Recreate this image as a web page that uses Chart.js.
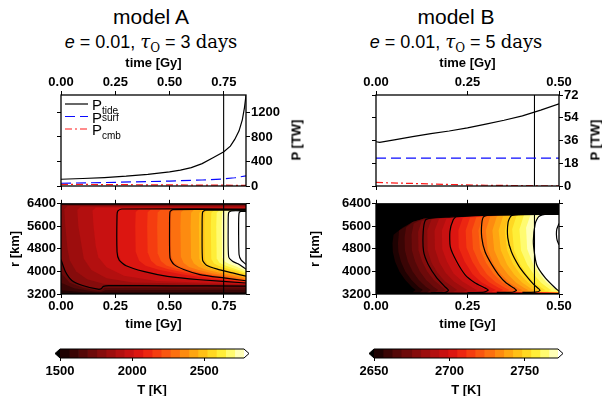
<!DOCTYPE html>
<html>
<head>
<meta charset="utf-8">
<script src="https://cdn.jsdelivr.net/npm/chart.js@4/dist/chart.umd.min.js"></script>
<style>
  body { margin: 0; width: 602px; height: 396px; position: relative; overflow: hidden; background: #fff; font-family: "Liberation Sans", Arial, sans-serif; }
  .box { position: absolute; }
  .title { position: absolute; font-size: 21px; line-height: 21px; white-space: nowrap; transform: translateX(-50%); }
  .eq { position: absolute; font-size: 18px; line-height: 22px; white-space: nowrap; transform: translateX(-50%); }
  .eq .m { font-family: "DejaVu Serif", serif; }
  .eq sub { font-family: "DejaVu Serif", serif; font-size: 12px; vertical-align: -4px; }
  .rot { position: absolute; font: bold 13px "Liberation Sans", Arial, sans-serif; white-space: nowrap; transform: translate(-50%, -50%) rotate(-90deg); }
</style>
</head>
<body>
<div class="title" style="left:151px;top:6px">model A</div>
<div class="eq" style="left:151px;top:31px"><i>e</i> = 0.01, <i class="m">τ</i><sub>O</sub> = 3 <span class="m">days</span></div>
<div class="title" style="left:456px;top:6px">model B</div>
<div class="eq" style="left:456px;top:31px"><i>e</i> = 0.01, <i class="m">τ</i><sub>O</sub> = 5 <span class="m">days</span></div>

<div class="box" style="left:0;top:50px"><canvas id="topA" width="300" height="145"></canvas></div>
<div class="box" style="left:0;top:195px"><canvas id="heatA" width="300" height="145"></canvas></div>
<div class="box" style="left:0;top:340px"><canvas id="barA" width="300" height="56"></canvas></div>
<div class="box" style="left:300px;top:50px"><canvas id="topB" width="302" height="145"></canvas></div>
<div class="box" style="left:300px;top:195px"><canvas id="heatB" width="302" height="145"></canvas></div>
<div class="box" style="left:300px;top:340px"><canvas id="barB" width="302" height="56"></canvas></div>
<div class="rot" style="left:296px;top:140px">P [TW]</div>
<div class="rot" style="left:595px;top:140px">P [TW]</div>

<script>
// ---- axes ----
const tickTimeA = [0, 0.25, 0.5, 0.75];
const tickTimeB = [0, 0.25, 0.5];
const tickPowerA = [0, 400, 800, 1200];
const tickPowerB = [0, 18, 36, 54, 72];
const tickRadius = [3200, 4000, 4800, 5600, 6400];
const tickTempA = [1500, 2000, 2500];
const tickTempB = [2650, 2700, 2750];
const timeMaxA = 0.852;
const timeMaxB = 0.5;
const powerMaxA = 1485;
const powerMaxB = 72;
const markA = 0.749;
const markB = 0.433;

// ---- power curves (TW) ----
const tideTimeA = [0, 0.1, 0.2, 0.3, 0.4, 0.5, 0.55, 0.6, 0.65, 0.7, 0.75, 0.78, 0.8, 0.82, 0.835, 0.845, 0.852];
const tideA = [110, 122, 138, 160, 190, 232, 260, 300, 365, 460, 560, 650, 760, 900, 1080, 1280, 1480];
const surfTimeA = [0, 0.25, 0.5, 0.65, 0.75, 0.8, 0.852];
const surfA = [45, 60, 80, 98, 115, 135, 165];
const cmbTimeA = [0, 0.25, 0.5, 0.65, 0.75, 0.8, 0.852];
const cmbA = [28, 22, 18, 15, 14, 12, 10];

const tideTimeB = [0, 0.01, 0.05, 0.1, 0.15, 0.2, 0.25, 0.3, 0.35, 0.4, 0.45, 0.5];
const tideB = [35, 34.5, 36.5, 39, 41.5, 43.5, 46, 49, 52, 55.5, 60, 65];
const surfTimeB = [0, 0.25, 0.5];
const surfB = [22, 22, 22];
const cmbTimeB = [0, 0.1, 0.2, 0.3, 0.4, 0.5];
const cmbB = [2.8, 2.0, 1.2, 0.6, 0.3, 0.1];

const legendNames = ['tide', 'surf', 'cmb'];

// ---- temperature levels (K) ----
const levelsA = [1500, 1564, 1628, 1691, 1755, 1819, 1883, 1946, 2010, 2074, 2138, 2201, 2265, 2329, 2393, 2456, 2520, 2584, 2648, 2711, 2775];
const levelsB = [2650, 2656, 2662, 2668, 2675, 2681, 2687, 2693, 2699, 2705, 2711, 2717, 2723, 2730, 2736, 2742, 2748, 2754, 2760, 2766, 2772];
const cmap = ['#1e0202', '#3a0505', '#540808', '#6d0a0a', '#860c0c', '#9d0d0d', '#b30f0f', '#c81111', '#dc1611', '#ec2611',
              '#f53d10', '#f95610', '#fc7010', '#fd8b10', '#fea612', '#ffc016', '#ffd822', '#ffee38', '#fffb70', '#ffffb8'];
const underColor = '#000000';
const overColor = '#ffffff';

// isotherm outlines [time Gy, radius km]; region right of each one is >= that level
const isoA = [
  [[0.852, 6395], [0, 6395], [0, 3215], [0.852, 3215]],
  [[0.852, 6385], [0, 6385], [0, 3330], [0.1, 3265], [0.2, 3250], [0.852, 3270]],
  [[0.852, 6370], [0, 6370], [0, 3600], [0.06, 3400], [0.15, 3285], [0.185, 3270], [0.205, 3330], [0.852, 3350]],
  [[0.852, 6355], [0, 6355], [0, 3950], [0.04, 3600], [0.1, 3420], [0.17, 3315], [0.19, 3330], [0.2, 3410], [0.852, 3420]],
  [[0.852, 6340], [0, 6340], [0, 4420], [0.02, 4000], [0.05, 3680], [0.1, 3500], [0.17, 3375], [0.19, 3400], [0.2, 3485], [0.852, 3475]],
  [[0.852, 6320], [0.03, 6320], [0.015, 6200], [0.02, 5600], [0.03, 4800], [0.04, 4400], [0.07, 4000], [0.12, 3720], [0.2, 3555], [0.4, 3525], [0.852, 3505]],
  [[0.852, 6295], [0.09, 6295], [0.075, 6180], [0.08, 5600], [0.095, 4900], [0.105, 4450], [0.14, 4050], [0.21, 3760], [0.33, 3610], [0.852, 3530]],
  [[0.852, 6265], [0.16, 6265], [0.145, 6160], [0.15, 5600], [0.16, 4900], [0.172, 4500], [0.21, 4150], [0.29, 3850], [0.44, 3660], [0.852, 3550]],
  [[0.852, 6230], [0.28, 6230], [0.262, 6120], [0.26, 5600], [0.262, 4700], [0.275, 4400], [0.3, 4200], [0.37, 4020], [0.49, 3840], [0.64, 3710], [0.852, 3580]],
  [[0.852, 6215], [0.36, 6215], [0.344, 6110], [0.342, 5600], [0.344, 4700], [0.36, 4380], [0.39, 4200], [0.45, 4060], [0.56, 3890], [0.7, 3745], [0.852, 3605]],
  [[0.852, 6205], [0.415, 6205], [0.399, 6100], [0.397, 5600], [0.399, 4680], [0.415, 4380], [0.44, 4210], [0.49, 4090], [0.59, 3930], [0.72, 3775], [0.852, 3630]],
  [[0.852, 6195], [0.46, 6195], [0.445, 6095], [0.443, 5600], [0.445, 4650], [0.46, 4370], [0.485, 4210], [0.53, 4100], [0.62, 3960], [0.74, 3800], [0.852, 3655]],
  [[0.852, 6190], [0.52, 6190], [0.507, 6090], [0.505, 5600], [0.507, 4560], [0.52, 4330], [0.545, 4180], [0.58, 4080], [0.66, 3920], [0.77, 3790], [0.852, 3685]],
  [[0.852, 6185], [0.565, 6185], [0.552, 6090], [0.55, 5600], [0.552, 4520], [0.565, 4300], [0.59, 4160], [0.63, 4060], [0.7, 3930], [0.79, 3820], [0.852, 3725]],
  [[0.852, 6180], [0.612, 6180], [0.599, 6085], [0.597, 5600], [0.599, 4480], [0.612, 4280], [0.635, 4160], [0.67, 4060], [0.73, 3950], [0.81, 3850], [0.852, 3765]],
  [[0.852, 6175], [0.65, 6175], [0.637, 6085], [0.635, 5600], [0.637, 4450], [0.65, 4270], [0.67, 4170], [0.7, 4080], [0.76, 3970], [0.852, 3805]],
  [[0.852, 6170], [0.675, 6170], [0.662, 6085], [0.66, 5600], [0.662, 4430], [0.675, 4260], [0.695, 4180], [0.73, 4090], [0.79, 3990], [0.852, 3855]],
  [[0.852, 6165], [0.705, 6165], [0.692, 6085], [0.69, 5600], [0.692, 4440], [0.705, 4280], [0.725, 4200], [0.76, 4110], [0.81, 4020], [0.852, 3905]],
  [[0.852, 6160], [0.73, 6160], [0.717, 6085], [0.715, 5600], [0.717, 4460], [0.73, 4310], [0.75, 4230], [0.78, 4150], [0.852, 3965]],
  [[0.852, 6155], [0.755, 6155], [0.742, 6085], [0.74, 5600], [0.742, 4490], [0.755, 4340], [0.775, 4260], [0.8, 4190], [0.852, 4025]],
  [[0.852, 6150], [0.78, 6150], [0.767, 6085], [0.765, 5600], [0.767, 4520], [0.78, 4370], [0.8, 4290], [0.825, 4220], [0.852, 4085]]
];

// model B: shared cold lid edge, then each isotherm's flank
const lidB = [[0.5, 6050], [0.45, 6040], [0.35, 6010], [0.25, 5960], [0.2, 5930], [0.166, 5900], [0.13, 5870], [0.1, 5750], [0.073, 5560], [0.05, 5320]];
const flankB = [
  [[0.048, 5300], [0.045, 5000], [0.046, 4700], [0.052, 4350], [0.064, 4000], [0.08, 3700], [0.098, 3450], [0.108, 3340], [0.1, 3262], [0.5, 3235]],
  [[0.063, 5450], [0.06, 5000], [0.061, 4700], [0.068, 4350], [0.08, 4000], [0.097, 3700], [0.116, 3450], [0.128, 3340], [0.12, 3262], [0.5, 3237]],
  [[0.082, 5560], [0.078, 5200], [0.079, 4750], [0.087, 4350], [0.1, 4000], [0.117, 3700], [0.137, 3450], [0.149, 3340], [0.14, 3264], [0.5, 3239]],
  [[0.103, 5700], [0.097, 5300], [0.098, 4750], [0.107, 4350], [0.12, 4000], [0.137, 3700], [0.158, 3450], [0.17, 3340], [0.16, 3266], [0.5, 3241]],
  [[0.125, 5800], [0.115, 5400], [0.116, 4750], [0.126, 4350], [0.14, 4000], [0.158, 3700], [0.18, 3450], [0.19, 3340], [0.18, 3268], [0.5, 3243]],
  [[0.152, 5850], [0.14, 5450], [0.141, 4750], [0.152, 4300], [0.168, 3950], [0.188, 3650], [0.212, 3430], [0.222, 3340], [0.21, 3270], [0.5, 3245]],
  [[0.172, 5860], [0.16, 5450], [0.161, 4800], [0.173, 4330], [0.19, 3950], [0.212, 3650], [0.238, 3430], [0.25, 3340], [0.238, 3272], [0.5, 3247]],
  [[0.192, 5870], [0.18, 5450], [0.181, 4800], [0.194, 4340], [0.212, 3930], [0.236, 3640], [0.264, 3420], [0.277, 3340], [0.264, 3274], [0.5, 3249]],
  [[0.212, 5880], [0.2, 5450], [0.201, 4850], [0.216, 4350], [0.238, 3900], [0.262, 3620], [0.29, 3410], [0.303, 3340], [0.29, 3276], [0.5, 3251]],
  [[0.237, 5900], [0.225, 5450], [0.226, 4850], [0.242, 4350], [0.264, 3900], [0.288, 3620], [0.316, 3410], [0.328, 3340], [0.315, 3278], [0.5, 3253]],
  [[0.257, 5910], [0.245, 5450], [0.247, 4850], [0.263, 4350], [0.285, 3900], [0.309, 3620], [0.336, 3410], [0.348, 3340], [0.335, 3280], [0.5, 3255]],
  [[0.274, 5920], [0.262, 5450], [0.265, 4800], [0.282, 4300], [0.303, 3900], [0.327, 3620], [0.353, 3410], [0.365, 3340], [0.352, 3282], [0.5, 3257]],
  [[0.292, 5930], [0.28, 5450], [0.284, 4800], [0.301, 4300], [0.322, 3900], [0.345, 3620], [0.37, 3410], [0.381, 3340], [0.369, 3284], [0.5, 3259]],
  [[0.312, 5940], [0.3, 5450], [0.305, 4750], [0.322, 4250], [0.343, 3880], [0.365, 3600], [0.389, 3400], [0.4, 3335], [0.388, 3286], [0.5, 3261]],
  [[0.33, 5950], [0.318, 5450], [0.323, 4750], [0.34, 4250], [0.361, 3880], [0.383, 3600], [0.406, 3400], [0.417, 3335], [0.405, 3288], [0.5, 3263]],
  [[0.347, 5960], [0.335, 5450], [0.341, 4750], [0.358, 4250], [0.378, 3880], [0.4, 3600], [0.422, 3400], [0.433, 3335], [0.421, 3290], [0.5, 3265]],
  [[0.364, 5970], [0.352, 5450], [0.358, 4750], [0.375, 4250], [0.395, 3880], [0.416, 3600], [0.437, 3400], [0.447, 3335], [0.436, 3292], [0.5, 3267]],
  [[0.384, 5980], [0.372, 5500], [0.377, 4750], [0.394, 4250], [0.413, 3880], [0.433, 3600], [0.454, 3400], [0.463, 3335], [0.452, 3294], [0.5, 3269]],
  [[0.404, 5990], [0.392, 5500], [0.396, 4750], [0.413, 4250], [0.432, 3880], [0.451, 3600], [0.471, 3400], [0.48, 3335], [0.47, 3296], [0.5, 3271]],
  [[0.422, 6000], [0.41, 5550], [0.413, 4800], [0.43, 4250], [0.448, 3880], [0.467, 3600], [0.486, 3400], [0.495, 3335], [0.5, 3300]],
  [[0.445, 6010], [0.432, 5700], [0.43, 5000], [0.439, 4240], [0.462, 3780], [0.489, 3420], [0.5, 3340]]
];

// contour lines (every 250 K for A, 25 K for B)
const contoursA = [
  [[0, 4420], [0.02, 4000], [0.05, 3680], [0.1, 3500], [0.17, 3370], [0.185, 3385], [0.195, 3470], [0.22, 3495], [0.5, 3490], [0.852, 3480]],
  [[0.852, 6215], [0.28, 6215], [0.262, 6150], [0.258, 6000], [0.258, 4700], [0.268, 4400], [0.3, 4200], [0.38, 4000], [0.49, 3825], [0.64, 3705], [0.852, 3590]],
  [[0.852, 6195], [0.515, 6195], [0.502, 6120], [0.5, 5600], [0.502, 4480], [0.52, 4250], [0.565, 4070], [0.64, 3890], [0.75, 3770], [0.852, 3670]],
  [[0.852, 6172], [0.665, 6172], [0.652, 6100], [0.65, 5600], [0.652, 4400], [0.67, 4220], [0.72, 4080], [0.79, 3950], [0.852, 3830]],
  [[0.852, 6150], [0.785, 6150], [0.772, 6090], [0.77, 5600], [0.772, 4530], [0.79, 4360], [0.815, 4270], [0.852, 4080]],
  [[0.852, 6130], [0.828, 6130], [0.82, 6070], [0.818, 5600], [0.82, 4600], [0.83, 4400], [0.852, 4250]]
];
const contoursB = [
  [[0.5, 6030], [0.3, 6000], [0.2, 5930], [0.15, 5890], [0.135, 5820], [0.129, 5415], [0.13, 4710], [0.143, 4240], [0.166, 3775], [0.19, 3440], [0.198, 3330], [0.19, 3260], [0.15, 3245]],
  [[0.5, 6035], [0.3, 6005], [0.22, 5950], [0.211, 5830], [0.202, 5420], [0.203, 4870], [0.22, 4360], [0.243, 3890], [0.27, 3600], [0.3, 3400], [0.307, 3340], [0.295, 3265], [0.25, 3250]],
  [[0.5, 6040], [0.33, 6015], [0.295, 5950], [0.289, 5700], [0.289, 5200], [0.298, 4700], [0.316, 4250], [0.334, 3900], [0.355, 3600], [0.378, 3400], [0.384, 3330], [0.372, 3262], [0.33, 3255]],
  [[0.5, 6045], [0.4, 6030], [0.37, 5980], [0.361, 5750], [0.36, 5200], [0.37, 4700], [0.39, 4200], [0.41, 3850], [0.43, 3550], [0.445, 3380], [0.448, 3320], [0.435, 3265], [0.4, 3260]],
  [[0.5, 6050], [0.47, 6040], [0.445, 5950], [0.435, 5700], [0.43, 5000], [0.439, 4240], [0.462, 3780], [0.489, 3420], [0.5, 3300]],
  [[0.5, 5700], [0.494, 5500], [0.493, 5300], [0.495, 5100], [0.5, 4950]]
];

// ---- helpers ----
const boldFont = {family: 'Liberation Sans', size: 13, weight: 'bold'};
const pts = (xs, ys) => xs.map((x, i) => ({x, y: ys[i]}));
const pairs = list => list.map(([x, y]) => ({x, y}));

function axis(position, min, max, ticks, size, labels, extra) {
  return Object.assign({
    type: 'linear', position, min, max,
    afterBuildTicks: s => { s.ticks = ticks.map(v => ({value: v})); },
    afterFit: s => { if (s.isHorizontal()) s.height = size; else s.width = size; },
    grid: {drawOnChartArea: false, drawTicks: true, tickLength: 4, color: '#000', lineWidth: 1},
    border: {display: false},
    ticks: {display: labels, color: '#000', font: boldFont, padding: 1, autoSkip: false, maxRotation: 0,
            callback: v => (Math.abs(max) < 2 ? v.toFixed(2) : String(v))}
  }, extra || {});
}
const axisTitle = (text, padding) => ({display: true, text, color: '#000', font: boldFont, padding});

const framePlugin = {
  id: 'frame',
  afterDatasetsDraw(chart) {
    const {ctx, chartArea: a} = chart;
    ctx.save();
    ctx.strokeStyle = '#000';
    ctx.lineWidth = 1.3;
    ctx.strokeRect(a.left, a.top, a.width, a.height);
    ctx.restore();
  }
};

function fieldPlugin(paths) {
  return {
    id: 'field',
    beforeDatasetsDraw(chart) {
      const {ctx, chartArea: a, scales: {x, y}} = chart;
      ctx.save();
      ctx.beginPath();
      ctx.rect(a.left, a.top, a.width, a.height);
      ctx.clip();
      ctx.fillStyle = underColor;
      ctx.fillRect(a.left, a.top, a.width, a.height);
      const edge = a.right + 2;
      paths.forEach((path, k) => {
        ctx.beginPath();
        path.forEach(([t, r], i) => {
          const px = x.getPixelForValue(t), py = y.getPixelForValue(r);
          if (i) ctx.lineTo(px, py); else ctx.moveTo(px, py);
        });
        ctx.lineTo(edge, y.getPixelForValue(path[path.length - 1][1]));
        ctx.lineTo(edge, y.getPixelForValue(path[0][1]));
        ctx.closePath();
        ctx.fillStyle = k < cmap.length ? cmap[k] : overColor;
        ctx.fill();
      });
      ctx.restore();
    }
  };
}

const legendStyles = [
  {color: '#000', dash: [], dy: 4},
  {color: '#0a0aff', dash: [10, 5], dy: -2},
  {color: '#ff1a1a', dash: [7, 3, 2, 3], dy: 4}
];
const legendPlugin = {
  id: 'plegend',
  afterDatasetsDraw(chart) {
    const {ctx, chartArea: a} = chart;
    ctx.save();
    legendNames.forEach((name, i) => {
      const y = a.top + 9 + i * 12.5;
      const st = legendStyles[i];
      ctx.strokeStyle = st.color;
      ctx.lineWidth = 1.2;
      ctx.setLineDash(st.dash);
      ctx.beginPath();
      ctx.moveTo(a.left + 4, y);
      ctx.lineTo(a.left + 27, y);
      ctx.stroke();
      ctx.fillStyle = '#000';
      ctx.textBaseline = 'alphabetic';
      ctx.font = '15px "Liberation Sans"';
      ctx.fillText('P', a.left + 31, y + 6);
      ctx.font = '10px "Liberation Sans"';
      ctx.fillText(name, a.left + 41, y + 6 + st.dy);
    });
    ctx.restore();
  }
};

function line(data, color, dash, width) {
  return {data, showLine: true, pointRadius: 0, borderColor: color, borderDash: dash || [], borderWidth: width || 1.2, tension: 0};
}

function topChart(id, timeMax, ticksT, powerMax, ticksP, series, mark, leftW, rightW, withLegend) {
  return new Chart(document.getElementById(id), {
    type: 'scatter',
    data: {datasets: [
      line(series[0], '#000'),
      line(series[1], '#0a0aff', [10, 5]),
      line(series[2], '#ff1a1a', [7, 3, 2, 3]),
      line([{x: mark, y: 0}, {x: mark, y: powerMax}], '#000', [], 1.1)
    ]},
    options: {
      responsive: false, animation: false, events: [],
      plugins: {legend: {display: false}, tooltip: {enabled: false}},
      layout: {padding: 0},
      scales: {
        x: axis('bottom', 0, timeMax, ticksT, 9, false),
        xTop: axis('top', 0, timeMax, ticksT, 45, true, {title: axisTitle('time [Gy]', {top: 6, bottom: 0})}),
        y: axis('left', 0, powerMax, ticksP, leftW, false),
        yRight: axis('right', 0, powerMax, ticksP, rightW, true)
      }
    },
    plugins: withLegend ? [framePlugin, legendPlugin] : [framePlugin]
  });
}

function heatChart(id, timeMax, ticksT, paths, contours, mark, leftW, rightW) {
  const sets = contours.map(c => Object.assign(line(pairs(c), '#000', [], 1.2), {tension: 0.2}));
  sets.push(line([{x: mark, y: 3200}, {x: mark, y: 6400}], '#000', [], 1.1));
  return new Chart(document.getElementById(id), {
    type: 'scatter',
    data: {datasets: sets},
    options: {
      responsive: false, animation: false, events: [],
      plugins: {legend: {display: false}, tooltip: {enabled: false}},
      layout: {padding: 0},
      scales: {
        x: axis('bottom', 0, timeMax, ticksT, 46, true, {title: axisTitle('time [Gy]', {top: 0, bottom: 8})}),
        xTop: axis('top', 0, timeMax, ticksT, 8, false),
        y: axis('left', 3200, 6400, tickRadius, leftW, true, {title: axisTitle('r [km]', {top: 8, bottom: 0})}),
        yRight: axis('right', 3200, 6400, tickRadius, rightW, false)
      }
    },
    plugins: [fieldPlugin(paths), framePlugin]
  });
}

const extendPlugin = {
  id: 'extend',
  afterDatasetsDraw(chart) {
    const {ctx, chartArea: a} = chart;
    const mid = (a.top + a.bottom) / 2;
    ctx.save();
    ctx.lineWidth = 1;
    ctx.strokeStyle = '#000';
    ctx.fillStyle = underColor;
    ctx.beginPath();
    ctx.moveTo(a.left, a.top); ctx.lineTo(a.left - 5, mid); ctx.lineTo(a.left, a.bottom); ctx.closePath();
    ctx.fill();
    ctx.fillStyle = overColor;
    ctx.beginPath();
    ctx.moveTo(a.right, a.top); ctx.lineTo(a.right + 5, mid); ctx.lineTo(a.right, a.bottom); ctx.closePath();
    ctx.fill();
    ctx.beginPath();
    ctx.moveTo(a.left, a.top); ctx.lineTo(a.right, a.top); ctx.lineTo(a.right + 5, mid);
    ctx.lineTo(a.right, a.bottom); ctx.lineTo(a.left, a.bottom); ctx.lineTo(a.left - 5, mid); ctx.closePath();
    ctx.stroke();
    ctx.restore();
  }
};

function barChart(id, levels, ticks, padL, padR) {
  return new Chart(document.getElementById(id), {
    type: 'bar',
    data: {
      labels: ['T'],
      datasets: cmap.map((c, k) => ({data: [[levels[k], levels[k + 1]]], backgroundColor: c, borderWidth: 0,
                                      grouped: false, barPercentage: 1, categoryPercentage: 1}))
    },
    options: {
      indexAxis: 'y', responsive: false, animation: false, events: [],
      plugins: {legend: {display: false}, tooltip: {enabled: false}},
      layout: {padding: {left: padL, right: padR, top: 9, bottom: 0}},
      scales: {
        x: axis('bottom', levels[0], levels[levels.length - 1], ticks, 38, true, {
          title: axisTitle('T [K]', {top: 0, bottom: -2}),
          grid: {drawOnChartArea: false, tickLength: 3, color: '#000'},
          ticks: {display: true, color: '#000', font: boldFont, padding: 3, autoSkip: false, maxRotation: 0,
                  callback: v => String(v)}
        }),
        y: {display: false}
      }
    },
    plugins: [extendPlugin]
  });
}

topChart('topA', timeMaxA, tickTimeA, powerMaxA, tickPowerA,
  [pts(tideTimeA, tideA), pts(surfTimeA, surfA), pts(cmbTimeA, cmbA)], markA, 61, 54, true);
topChart('topB', timeMaxB, tickTimeB, powerMaxB, tickPowerB,
  [pts(tideTimeB, tideB), pts(surfTimeB, surfB), pts(cmbTimeB, cmbB)], markB, 76, 43, false);

heatChart('heatA', timeMaxA, tickTimeA, isoA, contoursA, markA, 61, 54);
heatChart('heatB', timeMaxB, tickTimeB,
  flankB.map(f => lidB.filter(p => p[0] > f[0][0] + 0.01).concat(f)), contoursB, markB, 76, 43);

barChart('barA', levelsA, tickTempA, 60, 56);
barChart('barB', levelsB, tickTempB, 74, 44);
</script>
</body>
</html>
